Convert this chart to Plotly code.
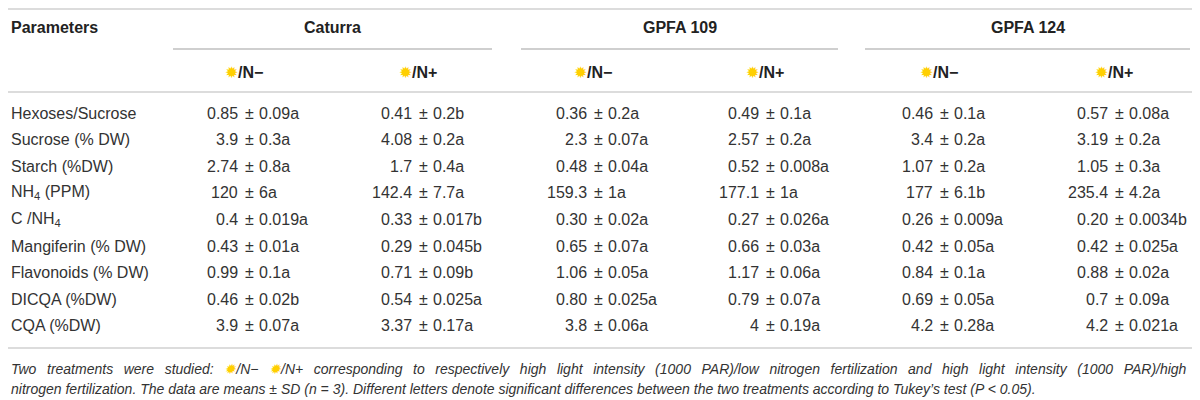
import plotly.graph_objects as go

# --- table data ---
groups = ["Caturra", "GPFA 109", "GPFA 124"]
treatments = ["/N−", "/N+"]
parameters = ["Hexoses/Sucrose", "Sucrose (% DW)", "Starch (%DW)", "NH<sub>4</sub> (PPM)",
              "C /NH<sub>4</sub>", "Mangiferin (% DW)", "Flavonoids (% DW)", "DICQA (%DW)", "CQA (%DW)"]

means = [
    ["0.85", "0.41", "0.36", "0.49", "0.46", "0.57"],
    ["3.9", "4.08", "2.3", "2.57", "3.4", "3.19"],
    ["2.74", "1.7", "0.48", "0.52", "1.07", "1.05"],
    ["120", "142.4", "159.3", "177.1", "177", "235.4"],
    ["0.4", "0.33", "0.30", "0.27", "0.26", "0.20"],
    ["0.43", "0.29", "0.65", "0.66", "0.42", "0.42"],
    ["0.99", "0.71", "1.06", "1.17", "0.84", "0.88"],
    ["0.46", "0.54", "0.80", "0.79", "0.69", "0.7"],
    ["3.9", "3.37", "3.8", "4", "4.2", "4.2"],
]
sds = [
    ["0.09a", "0.2b", "0.2a", "0.1a", "0.1a", "0.08a"],
    ["0.3a", "0.2a", "0.07a", "0.2a", "0.2a", "0.2a"],
    ["0.8a", "0.4a", "0.04a", "0.008a", "0.2a", "0.3a"],
    ["6a", "7.7a", "1a", "1a", "6.1b", "4.2a"],
    ["0.019a", "0.017b", "0.02a", "0.026a", "0.009a", "0.0034b"],
    ["0.01a", "0.045b", "0.07a", "0.03a", "0.05a", "0.025a"],
    ["0.1a", "0.09b", "0.05a", "0.06a", "0.1a", "0.02a"],
    ["0.02b", "0.025a", "0.025a", "0.07a", "0.05a", "0.09a"],
    ["0.07a", "0.17a", "0.06a", "0.19a", "0.28a", "0.021a"],
]

sun = '<span style="color:#ffcf00">✹</span>'
note_1_words = ["Two", "treatments", "were", "studied:", sun + "/N−", sun + "/N+", "corresponding", "to",
                "respectively", "high", "light", "intensity", "(1000", "PAR)/low", "nitrogen", "fertilization",
                "and", "high", "light", "intensity", "(1000", "PAR)/high"]
note_2 = ("nitrogen fertilization. The data are means ± SD (<i>n</i> = 3). Different letters denote significant "
          "differences between the two treatments according to Tukey’s test (<i>P</i> &lt; 0.05).")

# --- layout constants (window pixels, y downward) ---
FONT = "Liberation Sans"
TXT = "#333333"
HEAD = "#222222"
OFF = 8  # page body margin, the figure starts 8px in
x_left = 9
col_centers = [244, 418, 593, 765, 939, 1114]
pm_x = [c + 5 for c in col_centers]
group_spans = [(173, 492), (521, 838), (865, 1190)]
y_top_line = 9
y_head = 27
y_group_line = 49
y_sub = 72
y_sub_line = 92
y_row0 = 113
row_step = 26.6
y_bottom_line = 348
y_note = [369, 389]
just_gap = " \u00a0\u2009"  # widened gap so the first note line runs full width

fig = go.Figure()
fig.add_trace(go.Scatter(x=[OFF, 1200 + OFF], y=[OFF, 400 + OFF], mode="markers",
                         marker=dict(opacity=0), hoverinfo="skip", showlegend=False))

ann = []
shapes = []

# header
ann.append(dict(x=x_left, y=y_head, text="<b>Parameters</b>", xanchor="left",
                font=dict(size=16, color=HEAD)))
for g, (x0, x1) in zip(groups, group_spans):
    ann.append(dict(x=(x0 + x1) / 2, y=y_head, text="<b>" + g + "</b>", xanchor="center",
                    font=dict(size=16, color=HEAD)))
    shapes.append(dict(type="line", x0=x0, x1=x1, y0=y_group_line, y1=y_group_line,
                       line=dict(color="#a0a0a0", width=1.2)))
for i, c in enumerate(col_centers):
    ann.append(dict(x=c, y=y_sub, text=sun + "<b>" + treatments[i % 2] + "</b>", xanchor="center",
                    font=dict(size=16, color=HEAD)))

# rules
for yy in [y_top_line, y_sub_line, y_bottom_line]:
    shapes.append(dict(type="line", x0=OFF, x1=1200 + OFF, y0=yy, y1=yy,
                       line=dict(color="#dcdcdc", width=2)))

# body
for r, p in enumerate(parameters):
    yy = y_row0 + r * row_step
    ann.append(dict(x=x_left, y=yy, text=p, xanchor="left", font=dict(size=16, color=TXT)))
    for c in range(6):
        ann.append(dict(x=pm_x[c] - 9, y=yy, text=means[r][c], xanchor="right",
                        font=dict(size=16, color=TXT)))
        ann.append(dict(x=pm_x[c], y=yy, text="±", xanchor="center",
                        font=dict(size=16, color=TXT)))
        ann.append(dict(x=pm_x[c] + 8, y=yy, text=sds[r][c], xanchor="left",
                        font=dict(size=16, color=TXT)))

# footnote
note_1 = just_gap.join(note_1_words)
for t, yy in zip([note_1, note_2], y_note):
    ann.append(dict(x=x_left, y=yy, text="<i>" + t + "</i>", xanchor="left",
                    font=dict(size=14, color=TXT)))

for a in ann:
    a.update(xref="x", yref="y", yanchor="middle", showarrow=False)
for s in shapes:
    s.update(xref="x", yref="y")

fig.update_layout(
    width=1200, height=400,
    margin=dict(l=0, r=0, t=0, b=0),
    paper_bgcolor="white", plot_bgcolor="white",
    font=dict(family=FONT),
    xaxis=dict(range=[OFF, 1200 + OFF], visible=False, fixedrange=True),
    yaxis=dict(range=[400 + OFF, OFF], visible=False, fixedrange=True),
    annotations=ann,
    shapes=shapes,
)

fig.write_html("out.html")
